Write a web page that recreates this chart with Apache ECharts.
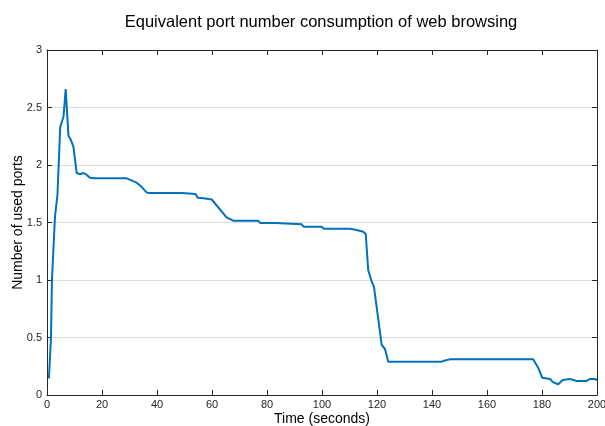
<!DOCTYPE html>
<html><head><meta charset="utf-8">
<script src="https://cdn.jsdelivr.net/npm/echarts@6/dist/echarts.min.js"></script>
<style>html,body{margin:0;padding:0;background:#fff}#c{width:605px;height:426px}</style>
</head><body><div id="c"></div>
<script>
var titleText = 'Equivalent port number consumption of web browsing';
var xName = 'Time (seconds)';
var yName = 'Number of used ports';
var xTicks = [0,20,40,60,80,100,120,140,160,180,200];
var yTicks = [0,0.5,1,1.5,2,2.5,3];
var times = [0.7,1.45,1.8,2.3,2.9,3.8,4.8,6.0,6.8,7.8,8.7,9.6,10.8,12,13.2,14.2,15.6,17,29,29.6,32.6,34.4,36.2,37,49,49.6,54,54.8,56.9,59.9,65.3,67.7,76.8,77.5,82.9,83.5,92.6,93.3,99.9,100.6,110.2,112.6,115,115.9,116.8,118.1,118.9,121.7,122.9,124.1,143.5,144.7,146.5,176.8,178.7,180.1,182.9,184.1,185.9,187.5,190.2,192.6,196.2,197.4,199.2,200];
var ports = [0.145,0.5,1.0,1.25,1.55,1.74,2.33,2.42,2.66,2.255,2.217,2.16,1.93,1.92,1.93,1.92,1.89,1.884,1.884,1.87,1.846,1.81,1.762,1.757,1.757,1.748,1.748,1.716,1.71,1.70,1.545,1.516,1.516,1.496,1.496,1.484,1.484,1.464,1.464,1.446,1.446,1.435,1.42,1.40,1.087,0.985,0.94,0.435,0.40,0.29,0.29,0.30,0.31,0.31,0.232,0.15,0.139,0.11,0.093,0.13,0.139,0.122,0.122,0.139,0.139,0.13];
var data = times.map(function(t,i){return [t, ports[i]];});
var axisCol = '#262626';
var chart = echarts.init(document.getElementById('c'));
var lblFont = {color:'#262626', fontSize:11, fontFamily:'Liberation Sans, Arial, sans-serif'};
chart.setOption({
  animation:false,
  title:{text:titleText, left:316, top:9, textAlign:'center', textStyle:{fontSize:16.5, fontWeight:'normal', color:'#000', fontFamily:'Liberation Sans, Arial, sans-serif'}},
  grid:{left:47, right:8, top:50, bottom:31, containLabel:false, outerBoundsMode:'none'},
  xAxis:[{type:'value', min:0, max:200, interval:20, name:xName, nameLocation:'middle', nameGap:17, nameMoveOverlap:false,
    nameTextStyle:{fontSize:14, color:'#000', fontFamily:'Liberation Sans, Arial, sans-serif'},
    axisLine:{show:true, onZero:false, lineStyle:{color:axisCol, width:1}},
    axisTick:{show:true, inside:true, length:5, lineStyle:{color:axisCol}},
    axisLabel:Object.assign({margin:4}, lblFont), splitLine:{show:false}},
   {type:'value', position:'top', min:0, max:200, interval:20,
    axisLine:{show:true, onZero:false, lineStyle:{color:axisCol, width:1}},
    axisTick:{show:true, inside:true, length:5, lineStyle:{color:axisCol}},
    axisLabel:{show:false}, splitLine:{show:false}}],
  yAxis:[{type:'value', min:0, max:3, interval:0.5, name:yName, nameLocation:'middle', nameGap:22, nameMoveOverlap:false,
    nameTextStyle:{fontSize:14, color:'#000', fontFamily:'Liberation Sans, Arial, sans-serif'},
    axisLine:{show:true, onZero:false, lineStyle:{color:axisCol, width:1}},
    axisTick:{show:true, inside:true, length:5, lineStyle:{color:axisCol}},
    axisLabel:Object.assign({margin:5}, lblFont),
    splitLine:{show:true, lineStyle:{color:'#dcdcdc', width:1}}},
   {type:'value', position:'right', min:0, max:3, interval:0.5,
    axisLine:{show:true, onZero:false, lineStyle:{color:axisCol, width:1}},
    axisTick:{show:true, inside:true, length:5, lineStyle:{color:axisCol}},
    axisLabel:{show:false}, splitLine:{show:false}}],
  series:[{type:'line', data:data, xAxisIndex:0, yAxisIndex:0, showSymbol:false, symbol:'none',
    lineStyle:{color:'#0072BD', width:2}, smooth:false}]
});
</script></body></html>
